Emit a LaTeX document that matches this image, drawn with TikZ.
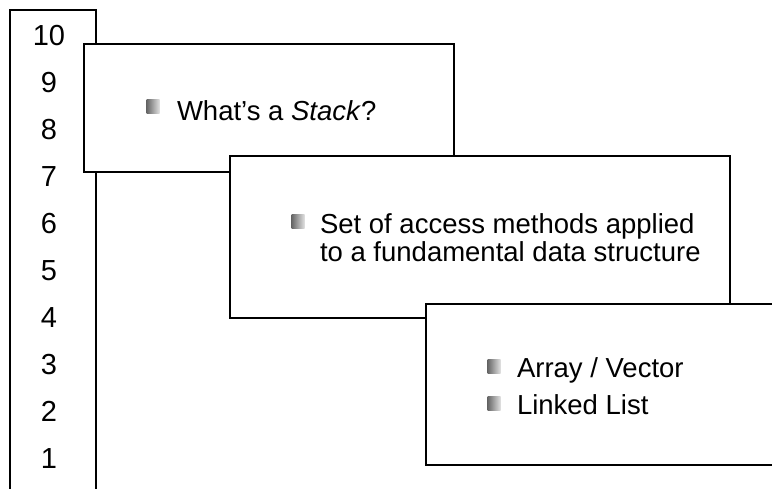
\documentclass[tikz,border=0pt]{standalone}
\usepackage{fontspec}
\setmainfont{Liberation Sans}
\usetikzlibrary{positioning}

\begin{document}
\begin{tikzpicture}[x=1pt,y=-1pt,line width=2pt,
  slide/.style={draw,fill=white,anchor=north west,inner sep=0pt},
  bullet/.style={minimum width=13pt,minimum height=14pt,inner sep=0pt,left color=black!60,right color=black!12},
  txt/.style={anchor=base west,inner sep=0pt,align=left,font=\fontsize{27.5}{28}\selectfont},
  num/.style={anchor=base,inner sep=0pt,font=\fontsize{29}{29}\selectfont}]

  \useasboundingbox (0,0) rectangle (772,488);

  % stack column
  \node[slide,minimum width=86pt,minimum height=520pt] (col) at (9,9) {};
  \foreach \n in {1,...,10}
    \node[num] (n\n) at (49,{45+47*(10-\n)}) {\n};

  % slides
  \node[slide,minimum width=370pt,minimum height=128pt] (s1) at (83,43) {};
  \node[bullet] (b1) at (153,106) {};
  \node[txt] (t1) at (176,120) {What’s a \textit{Stack}?};

  \node[slide,minimum width=500pt,minimum height=162pt] (s2) at (229,155) {};
  \node[bullet] (b2) at (298,221) {};
  \node[txt] (t2) at (319,261) {Set of access methods applied\\to a fundamental data structure};

  \node[slide,minimum width=360pt,minimum height=161pt] (s3) at (425,303) {};
  \node[bullet] (b3) at (494,366) {};
  \node[txt] (t3) at (516,377) {Array / Vector};
  \node[bullet] (b4) at (494,403) {};
  \node[txt] (t4) at (516,414) {Linked List};

\end{tikzpicture}
\end{document}
